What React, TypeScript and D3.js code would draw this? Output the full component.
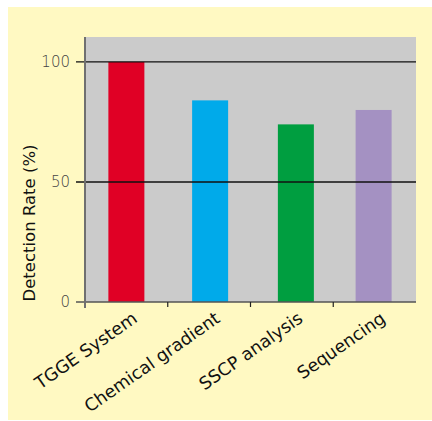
import React from "react";
import * as d3 from "d3";

const categories = ["TGGE System", "Chemical gradient", "SSCP analysis", "Sequencing"];
const values = [100, 84, 74, 80];
const colors = ["#e00025", "#00aaea", "#009e40", "#a491c2"];
const yTicks = [0, 50, 100];
const yTitle = "Detection Rate (%)";

export default function App() {
  const left = 85, right = 416, top = 37, bottom = 302;
  const x = d3.scaleBand<string>().domain(categories).range([left, right]).padding(0);
  const y = d3.scaleLinear().domain([0, 110.4]).range([bottom, top]);
  const barW = 36;
  const shift = [0, 1, 4, -1];
  const font = "'DejaVu Sans', sans-serif";
  return (
    <svg width={432} height={421} style={{ position: "absolute", left: 0, top: 0 }}>
      <rect x={8} y={7} width={424} height={413} fill="#fff9c2" />
      <rect x={left} y={top} width={right - left} height={bottom - top} fill="#cbcbcb" />
      {categories.map((c, i) => (
        <rect
          key={c}
          x={x(c)! + (x.bandwidth() - barW) / 2 + shift[i]}
          y={y(values[i])}
          width={barW}
          height={bottom - y(values[i])}
          fill={colors[i]}
        />
      ))}
      {yTicks.map((t) => (
        <g key={t}>
          <line x1={76} x2={right} y1={y(t)} y2={y(t)} stroke={t === 0 ? "#555" : "#111"} strokeWidth={1.3} />
          <text x={70} y={y(t)} dy="0.36em" textAnchor="end" fontFamily={font} fontWeight={200} fontSize={15} fill="#444">
            {t}
          </text>
        </g>
      ))}
      <line x1={left} x2={left} y1={top} y2={bottom + 6} stroke="#707070" strokeWidth={2} />
      {categories.slice(1).map((c) => (
        <line key={c} x1={x(c)!} x2={x(c)!} y1={bottom} y2={bottom + 5} stroke="#222" strokeWidth={1.2} />
      ))}
      <text
        transform={`translate(35,${(143 + 303) / 2}) rotate(-90)`}
        textAnchor="middle"
        fontFamily={font}
        fontSize={16.5}
        fill="#111"
      >
        {yTitle}
      </text>
      {categories.map((c) => {
        const cx = x(c)! + x.bandwidth() / 2 + 12;
        return (
          <text
            key={c}
            transform={`translate(${cx},321) rotate(-35)`}
            textAnchor="end"
            fontFamily={font}
            fontSize={17.5}
            fill="#111"
          >
            {c}
          </text>
        );
      })}
    </svg>
  );
}
